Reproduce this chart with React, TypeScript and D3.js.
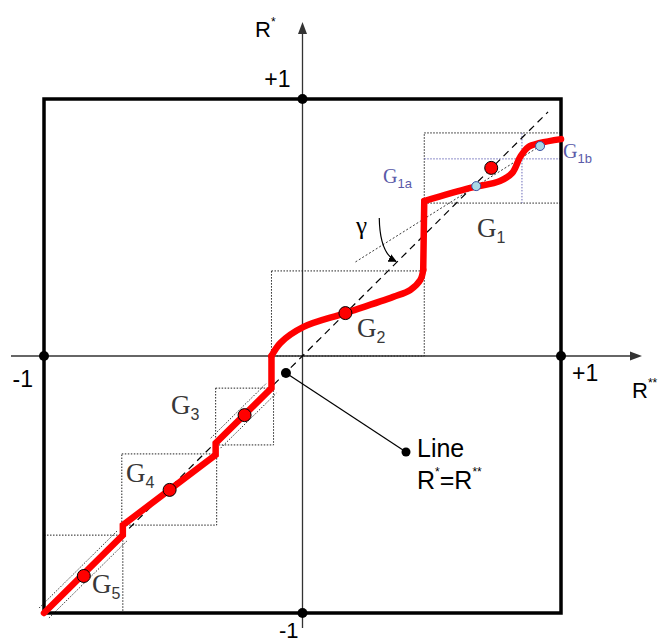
import React from "react";
import * as d3 from "d3";

// transfer curve R* = f(R**) (data units, -1..+1)
const stepPoints: [number, number][] = [
  [-1, -1], [-0.695, -0.697], [-0.695, -0.658], [-0.336, -0.385],
  [-0.336, -0.339], [-0.12, -0.125], [-0.12, 0.0]
];
const g2Bend: [number, number][] = [
  [-0.12, 0.0], [-0.085, 0.051], [0.004, 0.113], [0.166, 0.167],
  [0.351, 0.23], [0.417, 0.257], [0.456, 0.296], [0.467, 0.335]
];
const g1Jump: [number, number][] = [[0.467, 0.335], [0.471, 0.603]];
const g1Rise: [number, number][] = [
  [0.471, 0.603], [0.649, 0.654], [0.764, 0.681], [0.811, 0.712],
  [0.842, 0.774], [0.873, 0.813], [0.919, 0.829], [1.0, 0.844]
];

// dotted boxes around each cluster
const boxNames = ["G1", "G2", "G3", "G4", "G5"];
const boxLeft = [0.471, -0.12, -0.336, -0.699, -1];
const boxRight = [1, 0.471, -0.112, -0.332, -0.695];
const boxBottom = [0.595, 0, -0.346, -0.658, -1];
const boxTop = [0.868, 0.331, -0.125, -0.381, -0.697];

// cluster centres (red dots)
const clusterNames = ["G1", "G2", "G3", "G4", "G5"];
const centerX = [0.73, 0.166, -0.224, -0.514, -0.846];
const centerY = [0.732, 0.167, -0.23, -0.521, -0.856];

// sub-cluster centres of G1 (blue dots)
const subNames = ["G1a", "G1b"];
const subX = [0.672, 0.919];
const subY = [0.661, 0.817];

// G1 split lines
const splitX = 0.849;
const splitY = 0.767;

const axisTicks = [-1, 1];
const tickLabels = ["-1", "+1"];

const sans = "'Liberation Sans', Arial, sans-serif";
const serif = "'Liberation Serif', 'Times New Roman', serif";

const labelPos: Record<string, [number, number]> = {
  G1: [477, 237],
  G2: [357, 337],
  G3: [171, 414],
  G4: [126, 482],
  G5: [92, 593]
};
const subLabelPos: Record<string, [number, number]> = {
  G1a: [383, 183],
  G1b: [563, 158]
};

export default function App() {
  const x = d3.scaleLinear().domain([-1, 1]).range([44, 561]);
  const y = d3.scaleLinear().domain([-1, 1]).range([613, 99]);

  const straight = d3
    .line<[number, number]>()
    .x(d => x(d[0]))
    .y(d => y(d[1]));
  const smooth = d3
    .line<[number, number]>()
    .x(d => x(d[0]))
    .y(d => y(d[1]))
    .curve(d3.curveCatmullRom.alpha(0.5));

  const x0 = x(0);
  const y0 = y(0);

  // band lines parallel to the straight cluster segments (G3, G5)
  const bands: [[number, number], [number, number]][] = [
    [stepPoints[4], stepPoints[5]],
    [stepPoints[0], stepPoints[1]]
  ];
  const bandLines = bands.flatMap(([a, b]) => {
    const ax = x(a[0]), ay = y(a[1]), bx = x(b[0]), by = y(b[1]);
    const len = Math.hypot(bx - ax, by - ay);
    const nx = -(by - ay) / len, ny = (bx - ax) / len;
    return [-7, 7].map(o => ({
      x1: ax + nx * o, y1: ay + ny * o, x2: bx + nx * o, y2: by + ny * o
    }));
  });

  // chord through the G1 sub-centres, extended leftwards
  const slope = (subY[1] - subY[0]) / (subX[1] - subX[0]);
  const chordStart = 0.205;
  const chord = {
    x1: x(chordStart), y1: y(subY[0] + slope * (chordStart - subX[0])),
    x2: x(subX[1]), y2: y(subY[1])
  };

  // gamma arc (leader + arrow)
  const gp = d3.path();
  gp.moveTo(x(0.297), y(0.537));
  gp.quadraticCurveTo(x(0.299), y(0.4), x(0.362), y(0.368));

  const lineDot: [number, number] = [-0.064, -0.066];
  const lineLabel = { x: 406, y: 452 };

  return (
    <svg
      width={662}
      height={644}
      style={{ position: "absolute", left: 0, top: 0, background: "#fff" }}
    >
      <defs>
        <marker id="arr" viewBox="0 0 10 10" refX="9" refY="5" markerWidth="7" markerHeight="7" orient="auto">
          <path d="M0,0 L10,5 L0,10 z" fill="#000" />
        </marker>
      </defs>

      {/* axes */}
      <line x1={11} y1={y0} x2={632} y2={y0} stroke="#333" strokeWidth={1.3} />
      <path d={`M642,${y0} L630,${y0 - 4.5} L630,${y0 + 4.5} z`} fill="#333" />
      <line x1={x0} y1={628} x2={x0} y2={32} stroke="#333" strokeWidth={1.3} />
      <path d={`M${x0},22 L${x0 - 4.5},34 L${x0 + 4.5},34 z`} fill="#333" />

      {/* cluster boxes */}
      {boxNames.map((n, i) => (
        <rect
          key={n}
          x={x(boxLeft[i])}
          y={y(boxTop[i])}
          width={x(boxRight[i]) - x(boxLeft[i])}
          height={y(boxBottom[i]) - y(boxTop[i])}
          fill="none"
          stroke="#222"
          strokeWidth={1}
          strokeDasharray="1.5,1.5"
        />
      ))}
      <line x1={x(boxLeft[0])} y1={y(splitY)} x2={x(1)} y2={y(splitY)} stroke="#6a6ab8" strokeWidth={1} strokeDasharray="1.5,1.5" />
      <line x1={x(splitX)} y1={y(boxTop[0])} x2={x(splitX)} y2={y(boxBottom[0])} stroke="#6a6ab8" strokeWidth={1} strokeDasharray="1.5,1.5" />

      {bandLines.map((l, i) => (
        <line key={i} {...l} stroke="#222" strokeWidth={0.9} strokeDasharray="1.5,1.5" />
      ))}
      <line {...chord} stroke="#222" strokeWidth={0.9} strokeDasharray="2,2" />

      {/* R* = R** diagonal */}
      <line x1={x(-1)} y1={y(-1)} x2={x(0.95)} y2={y(0.95)} stroke="#000" strokeWidth={1.2} strokeDasharray="7,5" />

      {/* square frame */}
      <rect x={x(-1)} y={y(1)} width={x(1) - x(-1)} height={y(-1) - y(1)} fill="none" stroke="#000" strokeWidth={3.5} />

      {/* transfer curve */}
      <g fill="none" stroke="#ff0000" strokeWidth={6.5} strokeLinejoin="round" strokeLinecap="round">
        <path d={straight(stepPoints) || ""} strokeLinejoin="miter" />
        <path d={smooth(g2Bend) || ""} />
        <path d={straight(g1Jump) || ""} />
        <path d={smooth(g1Rise) || ""} />
      </g>

      {/* gamma */}
      <path d={gp.toString()} fill="none" stroke="#000" strokeWidth={1.2} markerEnd="url(#arr)" />
      <text x={356} y={234} fontFamily={serif} fontSize={25}>γ</text>

      {/* centres */}
      {clusterNames.map((n, i) => (
        <circle key={n} cx={x(centerX[i])} cy={y(centerY[i])} r={6.5} fill="#ff0000" stroke="#000" strokeWidth={1} />
      ))}
      {subNames.map((n, i) => (
        <circle key={n} cx={x(subX[i])} cy={y(subY[i])} r={4.5} fill="#a9d8e6" stroke="#3a4fa0" strokeWidth={1} />
      ))}

      {/* cluster labels */}
      {clusterNames.map(n => (
        <text key={n} x={labelPos[n][0]} y={labelPos[n][1]} fill="#383838">
          <tspan fontFamily={serif} fontSize={27}>G</tspan>
          <tspan fontFamily={sans} fontSize={16} dy={6}>{n.slice(1)}</tspan>
        </text>
      ))}
      {subNames.map(n => (
        <text key={n} x={subLabelPos[n][0]} y={subLabelPos[n][1]} fill="#5a5aa8">
          <tspan fontFamily={serif} fontSize={20}>G</tspan>
          <tspan fontFamily={sans} fontSize={13} dy={5}>{n.slice(1)}</tspan>
        </text>
      ))}

      {/* axis end points */}
      {axisTicks.map(t => (
        <g key={`h${t}`}>
          <circle cx={x(t)} cy={y0} r={5} fill="#000" />
          <circle cx={x0} cy={y(t)} r={5} fill="#000" />
        </g>
      ))}
      <g fontFamily={sans} fontSize={23} fill="#000">
        <text x={x(-1) - 11} y={y0 + 31} textAnchor="end">{tickLabels[0]}</text>
        <text x={x(1) + 11} y={y0 + 25}>{tickLabels[1]}</text>
        <text x={x0 - 12} y={y(1) - 12} textAnchor="end">{tickLabels[1]}</text>
        <text x={x0 - 4} y={y(-1) + 25} fontSize={22} textAnchor="end">{tickLabels[0]}</text>
      </g>

      {/* axis titles */}
      <text x={255} y={37} fontFamily={sans} fontSize={22}>
        R<tspan fontSize={12} dy={-11}>*</tspan>
      </text>
      <text x={632} y={398} fontFamily={sans} fontSize={22}>
        R<tspan fontSize={12} dy={-11}>**</tspan>
      </text>

      {/* line annotation */}
      <line x1={x(lineDot[0])} y1={y(lineDot[1])} x2={lineLabel.x} y2={lineLabel.y} stroke="#000" strokeWidth={1.2} />
      <circle cx={x(lineDot[0])} cy={y(lineDot[1])} r={5} fill="#000" />
      <circle cx={lineLabel.x} cy={lineLabel.y} r={4.5} fill="#000" />
      <text x={417} y={457} fontFamily={sans} fontSize={25}>Line</text>
      <text x={417} y={489} fontFamily={sans} fontSize={25}>
        R<tspan fontSize={12} dy={-13}>*</tspan>
        <tspan dy={13}>=R</tspan>
        <tspan fontSize={12} dy={-13}>**</tspan>
      </text>
    </svg>
  );
}
